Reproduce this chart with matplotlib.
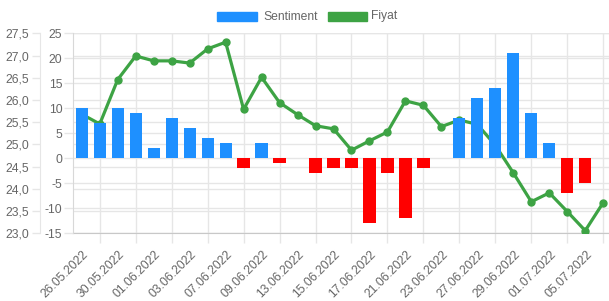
import matplotlib
matplotlib.use("Agg")
import matplotlib.pyplot as plt
from matplotlib.patches import Rectangle
from matplotlib.ticker import FuncFormatter, MultipleLocator
from matplotlib.transforms import ScaledTranslation

plt.rcParams["font.family"] = ["Liberation Sans", "DejaVu Sans"]

dates = ["26.05.2022", "27.05.2022", "30.05.2022", "31.05.2022", "01.06.2022",
         "02.06.2022", "03.06.2022", "06.06.2022", "07.06.2022", "08.06.2022",
         "09.06.2022", "10.06.2022", "13.06.2022", "14.06.2022", "15.06.2022",
         "16.06.2022", "17.06.2022", "20.06.2022", "21.06.2022", "22.06.2022",
         "23.06.2022", "24.06.2022", "27.06.2022", "28.06.2022", "29.06.2022",
         "30.06.2022", "01.07.2022", "04.07.2022", "05.07.2022", "06.07.2022"]
sentiment = [10, 7, 10, 9, 2, 8, 6, 4, 3, -2, 3, -1, 0, -3, -2,
             -2, -13, -3, -12, -2, 0, 8, 12, 14, 21, 9, 3, -7, -5, 0]
fiyat = [25.68, 25.46, 26.46, 26.99, 26.88, 26.88, 26.83, 27.15, 27.30, 25.79,
         26.51, 25.94, 25.67, 25.42, 25.35, 24.87, 25.08, 25.28, 25.98, 25.88,
         25.40, 25.55, 25.45, 24.98, 24.36, 23.71, 23.91, 23.49, 23.06, 23.69]

BLUE = "#1E90FF"
RED = "#FF0000"
GREEN = "#3DA344"
TXT = "#666666"
GRID = "#e6e6e6"
W, H = 609, 301

fig = plt.figure(figsize=(W / 100, H / 100), dpi=100)
left, right, top, bottom = 72.8, 612.2, 33.3, 233.3
ax = fig.add_axes([left / W, (H - bottom) / H, (right - left) / W, (bottom - top) / H])
ax2 = ax.twinx()

x = list(range(len(dates)))

# price line (host axis, drawn below the bars)
ax.plot(x, fiyat, color=GREEN, lw=2.3, marker="o", ms=5, zorder=3,
        solid_joinstyle="round")
ax.set_xlim(-0.5, len(dates) - 0.5)
ax.set_ylim(23.0, 27.5)
ax.yaxis.set_major_locator(MultipleLocator(0.5))
ax.yaxis.set_major_formatter(FuncFormatter(lambda v, p: f"{v:.1f}".replace(".", ",")))

# sentiment bars (twin axis, on top)
colors = [BLUE if s >= 0 else RED for s in sentiment]
ax2.bar(x, sentiment, width=0.68, color=colors, zorder=3)
ax2.set_ylim(-15, 25)
ax2.yaxis.set_major_locator(MultipleLocator(5))
ax2.yaxis.set_major_formatter(FuncFormatter(lambda v, p: f"{v:.0f}"))
ax2.yaxis.tick_left()

# gridlines for both y scales, drawn in host axes behind the line
for v in ax.get_yticks():
    if 23.0 <= v <= 27.5:
        ax.axhline(v, color=GRID, lw=1, zorder=0)
for v in range(-15, 26, 5):
    ax.hlines((v + 15) / 40, 0, 1, transform=ax.transAxes, color=GRID, lw=1, zorder=0)

# x axis: labels on even slots, grid on odd slots
ax.set_xticks(x[::2])
ax.set_xticklabels(dates[::2], rotation=45, ha="right", va="center",
                   rotation_mode="anchor", fontsize=8.7, color=TXT)
ax.set_xticks(x[1::2], minor=True)
ax.tick_params(axis="x", which="major", length=0, pad=14)
ax.tick_params(axis="x", which="minor", length=7.5, color=GRID, width=1)
ax.grid(axis="x", which="minor", color=GRID, lw=1, zorder=0)
for lab in ax.get_xticklabels():
    lab.set_transform(lab.get_transform() + ScaledTranslation(5 / 100, 0, fig.dpi_scale_trans))

ax.tick_params(axis="y", length=6, color=GRID, width=1, labelsize=8.7,
               labelcolor=TXT, pad=2)
ax2.tick_params(axis="y", length=6.5, color=GRID, width=1, labelsize=8.7,
                labelcolor=TXT, pad=1)
ax2.tick_params(axis="x", bottom=False, labelbottom=False)

# outer price axis sits ~33 px left of the plot edge (value in points)
ax.spines["left"].set_position(("outward", 23.6))
for s in ["top", "right"]:
    ax.spines[s].set_visible(False)
for s in ["top", "right", "bottom"]:
    ax2.spines[s].set_visible(False)
ax.spines["left"].set_color(GRID)
ax.spines["bottom"].set_color("#c8c8c8")
ax2.spines["left"].set_color("#d8d8d8")

# legend
def fx(px):
    return px / W

def fy(py):
    return (H - py) / H

fig.patches.append(Rectangle((fx(216.5), fy(20.5)), 40 / W, 8.5 / H, color=BLUE,
                             transform=fig.transFigure))
fig.text(fx(263), fy(16.5), "Sentiment", color=TXT, fontsize=8.7, va="center")
fig.patches.append(Rectangle((fx(327.5), fy(20.5)), 39 / W, 8.5 / H, color=GREEN,
                             transform=fig.transFigure))
fig.text(fx(371.5), fy(16.5), "Fiyat", color=TXT, fontsize=8.7, va="center")

fig.savefig("out.png", dpi=100)
